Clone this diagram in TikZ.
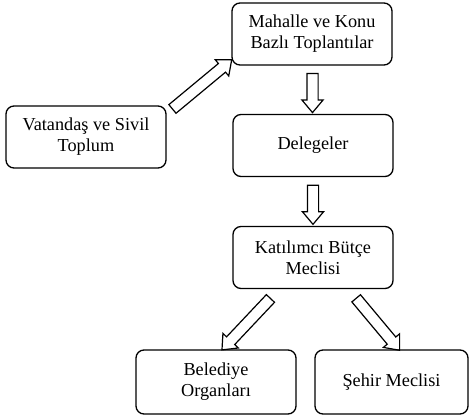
\documentclass[tikz,border=0pt]{standalone}
\usepackage{fontspec}
\setmainfont{Liberation Serif}
\usetikzlibrary{shapes.arrows,calc}

\tikzset{every picture/.style={line width=0.75pt}}
\tikzset{
	box/.style={draw, rounded corners=6pt, line width=1pt, minimum width=120pt, minimum height=46.5pt, align=center, font=\fontsize{13.7}{15.8}\selectfont},
	blockarr/.style={draw, single arrow, line width=0.9pt, inner sep=3.75pt, single arrow head extend=3.75pt, single arrow tip angle=80, minimum height=#1, anchor=center}
}

\begin{document}
\begin{tikzpicture}[x=0.75pt,y=0.75pt,yscale=-1,xscale=1]
	\useasboundingbox (0,0) rectangle (469,417);

	% Boxes
	\node[box] (mahalle) at (312,34) {Mahalle ve Konu\\Bazlı Toplantılar};
	\node[box] (vatandas) at (86,137) {Vatandaş ve Sivil\\Toplum};
	\node[box] (delegeler) at (313,145.5) {Delegeler};
	\node[box] (katilimci) at (313,257.5) {Katılımcı Bütçe\\Meclisi};
	\node[box, minimum height=48pt] (belediye) at (216,382) {Belediye\\Organları};
	\node[box, minimum height=48pt, minimum width=114.75pt] (sehir) at (391.5,382) {Şehir Meclisi};

	% Block arrows
	\path ($(vatandas.north east)+(4,5)$) -- node[blockarr=57.75pt, rotate=39.7] {} ($(mahalle.south west)+(-3,-3)$);
	\path (mahalle.south) -- node[blockarr=29.25pt, rotate=-90] {} (delegeler.north);
	\path (delegeler.south) -- node[blockarr=29.25pt, rotate=-90] {} (katilimci.north);
	\path ($(katilimci.south)+(-40,7)$) -- node[blockarr=53pt, rotate=-133.3] {} ($(belediye.north)+(8,-2)$);
	\path ($(katilimci.south)+(41,7)$) -- node[blockarr=50.8pt, rotate=-50.1] {} ($(sehir.north)+(6,-2)$);

\end{tikzpicture}
\end{document}
